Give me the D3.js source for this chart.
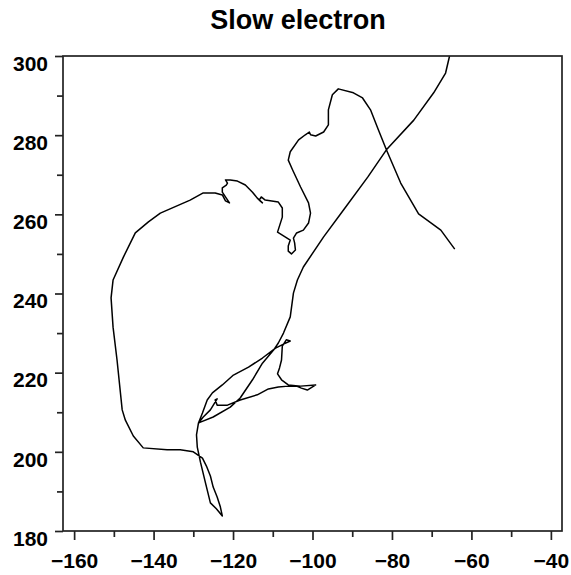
<!DOCTYPE html>
<html><head><meta charset="utf-8">
<script src="https://cdn.jsdelivr.net/npm/d3@7"></script>
<style>body{margin:0;background:#fff;} svg{display:block;}</style>
</head><body>
<script>
const title = "Slow electron";
const xTicks = [-160, -140, -120, -100, -80, -60, -40];
const xMinorTicks = [-150, -130, -110, -90, -70, -50];
const yTicks = [180, 200, 220, 240, 260, 280, 300];
const yMinorTicks = [190, 210, 230, 250, 270, 290];

// electron track (x, y)
const trackX = [
  -65.5, -66.5, -69.5, -74.5, -81.4, -86.1, -92.2, -97.2, -102.3, -103.8, -104.8, -105.6, -107.3, -108.6, -109.8, -112.6, -115.1, -118.2, -120.7, -125.0, -128.2,
  -128.7, -127.7, -126.5, -125.2, -122.7, -119.9, -116.1, -112.6, -109.3, -107.3, -105.6, -106.6, -107.6,
  -107.8, -108.3, -108.8, -107.8, -106.1, -103.0, -99.2, -101.3, -102.8, -104.0,
  -106.1, -108.6, -111.1, -113.9, -118.2, -121.4, -124.0, -124.5, -124.0, -125.7, -127.5, -128.7,
  -129.2, -129.0, -128.2, -127.0, -125.7, -124.2, -122.7,
  -123.2, -124.0, -125.0, -125.7, -126.7, -127.7, -130.0, -133.3, -136.6, -142.6, -145.1, -147.1, -147.9, -149.2, -150.2, -150.7, -150.2, -147.6, -144.6, -141.3, -138.3, -130.8, -127.5, -124.5, -122.7,
  -121.9, -120.9, -121.7, -122.7, -122.7, -121.7, -121.4, -121.9, -120.7, -118.9, -116.9, -115.1, -113.9,
  -112.6, -113.4, -112.9, -111.9, -108.6, -107.6, -107.6, -108.8, -105.6,
  -106.1, -106.1, -105.3, -104.3, -104.5, -104.8, -104.0, -102.3, -101.0, -100.5, -101.0, -103.0, -105.0, -106.1, -105.6, -103.5, -101.8, -100.8, -100.5, -99.2, -97.2, -96.0, -96.0, -95.0, -93.5, -89.7, -87.4, -85.4, -83.4, -81.4, -77.8, -73.3, -67.7, -64.2
];
const trackY = [
  300.0, 295.7, 290.7, 283.8, 276.3, 269.4, 261.1, 254.3, 246.7, 243.4, 240.1, 234.1, 230.0, 227.5, 225.7, 222.4, 218.2, 213.6, 211.3, 208.8, 207.5,
  207.3, 209.8, 213.1, 214.9, 216.9, 219.4, 221.4, 223.7, 226.2, 227.2, 228.0, 228.3, 226.7,
  223.2, 221.2, 219.7, 218.2, 216.9, 216.6, 216.9, 215.6, 216.1, 216.6,
  216.6, 216.4, 215.9, 214.4, 213.1, 211.8, 211.8, 213.1, 213.4, 210.6, 208.8, 207.3,
  204.3, 201.2, 197.4, 192.4, 187.1, 185.6, 183.8,
  186.1, 188.6, 191.1, 193.9, 196.4, 198.4, 200.0, 200.5, 200.5, 201.0, 204.0, 208.0, 210.6, 223.2, 231.5, 238.9, 243.4, 249.2, 255.3, 258.1, 260.3, 263.6, 265.4, 265.4, 264.9,
  263.4, 262.9, 264.1, 265.6, 266.7, 267.4, 267.9, 268.7, 268.7, 268.4, 267.4, 265.6, 264.1,
  262.9, 263.6, 264.4, 263.6, 263.1, 261.6, 259.3, 255.5, 253.5,
  252.0, 250.7, 250.0, 251.0, 252.8, 254.0, 255.3, 256.0, 257.8, 260.3, 262.9, 266.9, 271.2, 273.7, 275.8, 278.8, 280.1, 280.8, 280.1, 279.8, 280.8, 282.6, 286.4, 290.2, 291.7, 290.7, 289.4, 286.4, 281.3, 276.3, 267.9, 260.1, 256.0, 251.2
];

const W = 571, H = 575;
const L = 63, R = 562, T = 56, B = 531;

const svg = d3.select("body").append("svg").attr("width", W).attr("height", H);
const x = d3.scaleLinear().domain([-162.8, -37.2]).range([L, R]);
const y = d3.scaleLinear().domain([180, 300]).range([B, T]);

const font = "'Liberation Sans', Arial, Helvetica, sans-serif";
const axisColor = "#222";

// title
svg.append("text").attr("x", 298).attr("y", 29)
  .attr("text-anchor", "middle").attr("font-family", font)
  .attr("font-weight", "bold").attr("font-size", 27).attr("fill", "#000")
  .text(title);

// data line
const pts = trackX.map((d, i) => [d, trackY[i]]);
svg.append("path").datum(pts)
  .attr("fill", "none").attr("stroke", "#000").attr("stroke-width", 1.5)
  .attr("stroke-linejoin", "round")
  .attr("d", d3.line().x(d => x(d[0])).y(d => y(d[1])));

// axes
function styleAxis(g) {
  g.select(".domain").remove();
  g.selectAll("line").attr("stroke", axisColor).attr("stroke-width", 1.7);
  g.selectAll("text").attr("font-family", font).attr("font-weight", "bold")
    .attr("font-size", 21).attr("fill", "#000");
}
const fmt = d3.format("d");
svg.append("g").attr("transform", `translate(0,${B})`)
  .call(d3.axisBottom(x).tickValues(xTicks).tickFormat(fmt).tickSize(9).tickPadding(13))
  .call(styleAxis);
svg.append("g").attr("transform", `translate(0,${B})`)
  .call(d3.axisBottom(x).tickValues(xMinorTicks).tickFormat("").tickSize(6))
  .call(styleAxis);
const gy = svg.append("g").attr("transform", `translate(${L},0)`)
  .call(d3.axisLeft(y).tickValues(yTicks).tickFormat(fmt).tickSize(8).tickPadding(7))
  .call(styleAxis);
gy.selectAll("text").attr("dy", "0.68em");
svg.append("g").attr("transform", `translate(${L},0)`)
  .call(d3.axisLeft(y).tickValues(yMinorTicks).tickFormat("").tickSize(6))
  .call(styleAxis);

// frame
svg.append("rect").attr("x", L).attr("y", T).attr("width", R - L).attr("height", B - T)
  .attr("fill", "none").attr("stroke", axisColor).attr("stroke-width", 1.7);
</script>
</body></html>
